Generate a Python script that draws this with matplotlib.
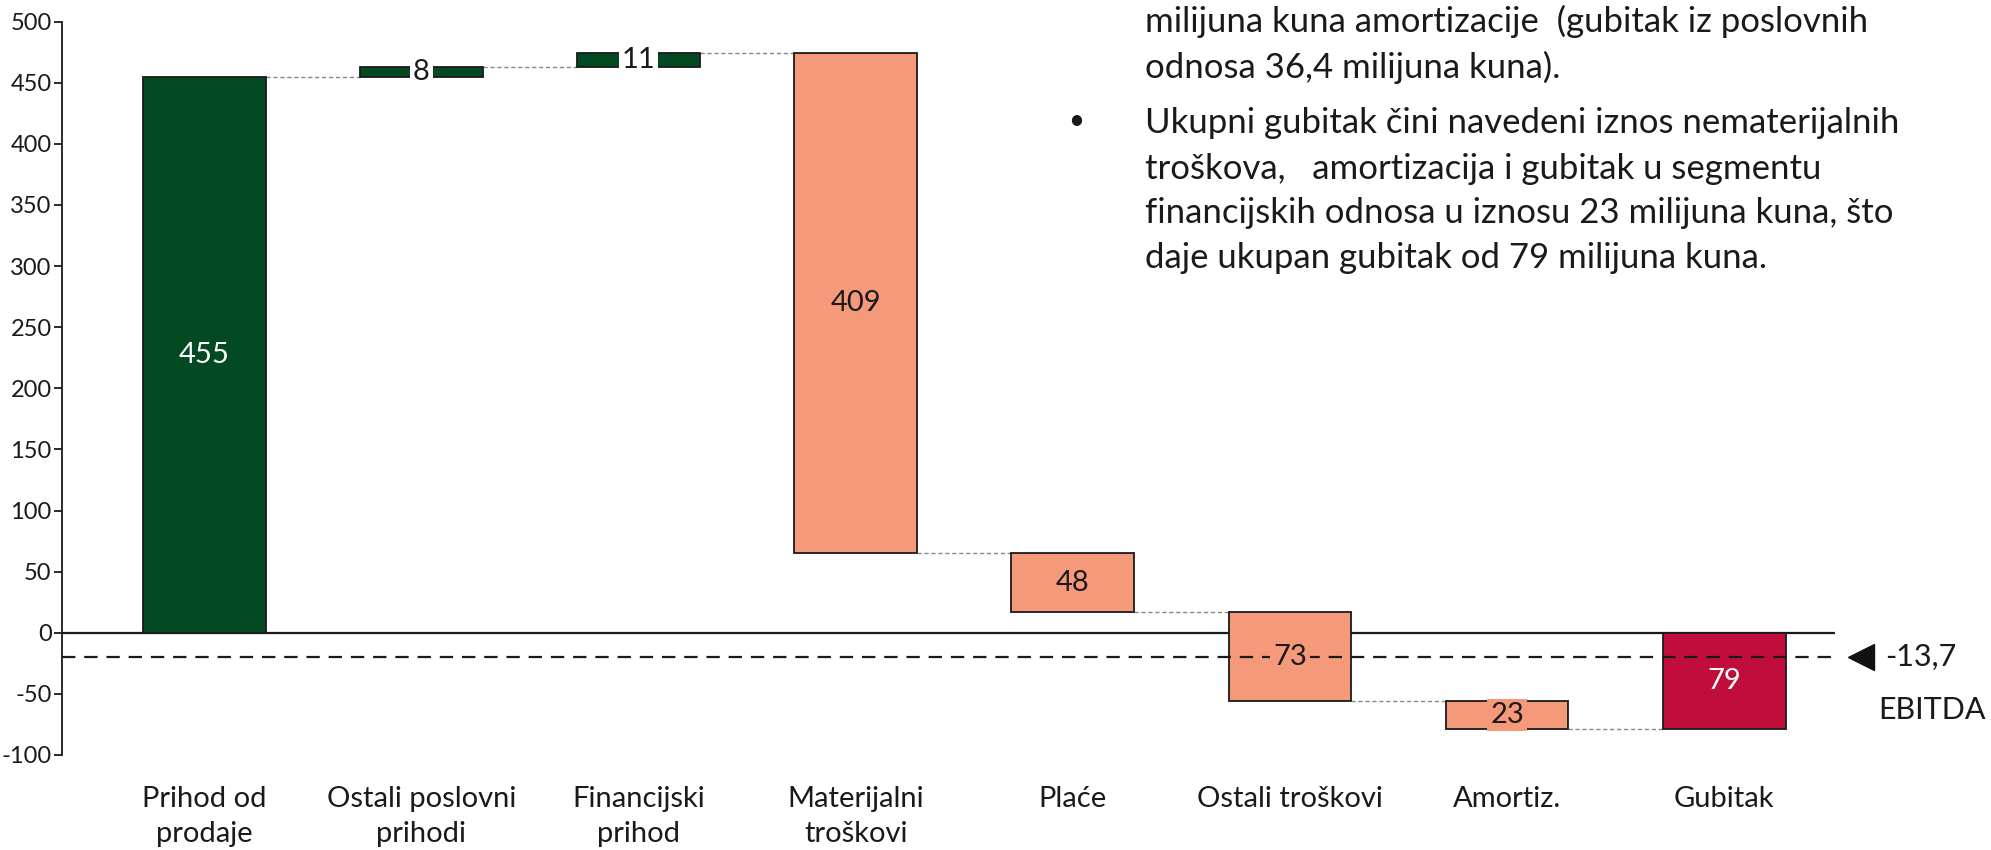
import matplotlib.pyplot as plt
import numpy as np

plt.rcParams['font.family'] = ['Lato', 'DejaVu Sans']

categories = ["Prihod od\nprodaje", "Ostali poslovni\nprihodi", "Financijski\nprihod",
              "Materijalni\ntroškovi", "Plaće", "Ostali troškovi", "Amortiz.", "Gubitak"]
changes = [455, 8, 11, -409, -48, -73, -23]
total_loss = -79
labels = ["455", "8", "11", "409", "48", "73", "23", "79"]
yticks = [-100, -50, 0, 50, 100, 150, 200, 250, 300, 350, 400, 450, 500]
ebitda_value = "-13,7"
ebitda_line = -20

note_lines = [
    "milijuna kuna amortizacije  (gubitak iz poslovnih",
    "odnosa 36,4 milijuna kuna).",
    "Ukupni gubitak čini navedeni iznos nematerijalnih",
    "troškova,   amortizacija i gubitak u segmentu",
    "financijskih odnosa u iznosu 23 milijuna kuna, što",
    "daje ukupan gubitak od 79 milijuna kuna.",
]

GREEN = "#034A22"
SALMON = "#F4997A"
RED = "#C10D3C"
TXT = "#1a1a1a"

# waterfall geometry
ends = np.cumsum(changes)
starts = np.concatenate([[0], ends[:-1]])
bottoms = list(np.minimum(starts, ends)) + [min(0, total_loss)]
heights = list(np.abs(changes)) + [abs(total_loss)]
colors = [GREEN if c > 0 else SALMON for c in changes] + [RED]
x = np.arange(len(categories))
width = 0.565

fig = plt.figure(figsize=(19.91, 8.5), dpi=100)
ax = fig.add_axes([62 / 1991, 0.1118, (1835 - 62) / 1991, 0.8628])

ax.axhline(0, color=TXT, lw=1.6, zorder=1)
ax.bar(x, heights, bottom=bottoms, width=width, color=colors,
       edgecolor=TXT, linewidth=1.3, zorder=2)

# connectors between bars
for i in range(len(categories) - 1):
    lvl = ends[i]
    ax.plot([x[i] + width / 2, x[i + 1] - width / 2], [lvl, lvl],
            color="#888888", lw=1.0, ls=(0, (3, 2)), zorder=1)

ax.axhline(ebitda_line, color=TXT, lw=1.6, ls=(0, (6, 4)), zorder=3)

# value labels
for i, lab in enumerate(labels):
    yc = bottoms[i] + heights[i] / 2
    kw = dict(ha="center", va="center", fontsize=21, zorder=4)
    if i in (0, 7):
        ax.text(x[i], yc, lab, color="white", **kw)
    elif i in (1, 2):
        ax.text(x[i], yc, lab, color=TXT, bbox=dict(facecolor="white", edgecolor="none", pad=2), **kw)
    elif i in (5, 6):
        ax.text(x[i], yc, lab, color=TXT, bbox=dict(facecolor=SALMON, edgecolor="none", pad=2), **kw)
    else:
        ax.text(x[i], yc, lab, color=TXT, **kw)

# EBITDA marker
ax.plot([7.63], [ebitda_line], marker="<", ms=19, color="#111111", clip_on=False, zorder=5)
ax.text(7.74, ebitda_line, ebitda_value, fontsize=22, color=TXT, va="center", ha="left")
ax.text(7.71, -63, "EBITDA", fontsize=22, color=TXT, va="center", ha="left")

ax.set_xlim(-0.655, 7.51)
ax.set_ylim(-100, 500)
ax.set_yticks(yticks, labels=[str(v) for v in yticks], fontsize=17, color=TXT)
ax.set_xticks(x)
ax.set_xticklabels(categories, fontsize=21, color=TXT, linespacing=1.45)
ax.tick_params(axis="x", length=0, pad=22)
ax.tick_params(axis="y", length=6, width=1.3, color=TXT, pad=1.5)
for s in ["top", "right", "bottom"]:
    ax.spines[s].set_visible(False)
ax.spines["left"].set_color(TXT)
ax.spines["left"].set_linewidth(1.3)

# explanatory text
ys = [21.6, 67.3, 123.2, 168.9, 213.3, 257.8]
for line, yp in zip(note_lines, ys):
    fig.text(1145 / 1991, 1 - yp / 850, line, fontsize=25, color=TXT, va="center", ha="left")
fig.text(1068 / 1991, 1 - 120.6 / 850, "•", fontsize=20, color=TXT, va="center", ha="left")

fig.savefig("out.png", dpi=100)
